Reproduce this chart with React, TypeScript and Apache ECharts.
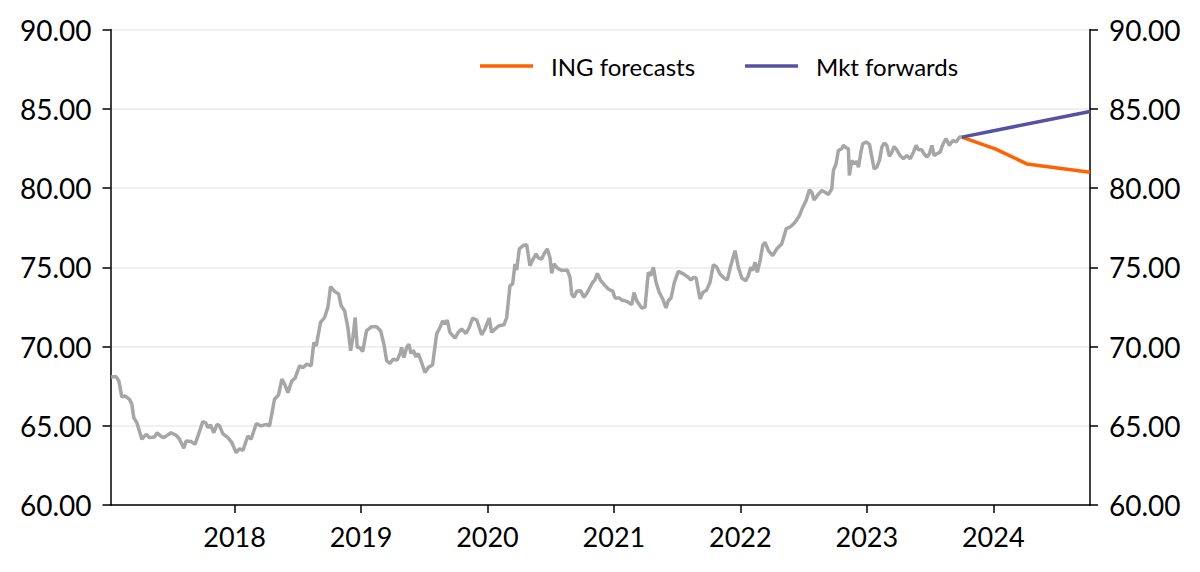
import React, { useEffect, useRef } from "react";
import * as echarts from "echarts";

// Decimal-year dates and values
const histDates = [
  2017.024, 2017.063, 2017.085, 2017.108, 2017.134, 2017.169, 2017.188, 2017.203, 2017.227, 2017.267,
  2017.301, 2017.328, 2017.367, 2017.388, 2017.415, 2017.441, 2017.498, 2017.538, 2017.565, 2017.599,
  2017.617, 2017.657, 2017.688, 2017.715, 2017.749, 2017.771, 2017.789, 2017.81, 2017.836, 2017.862,
  2017.881, 2017.907, 2017.947, 2017.979, 2018.013, 2018.04, 2018.066, 2018.105, 2018.131, 2018.171,
  2018.21, 2018.25, 2018.277, 2018.316, 2018.348, 2018.374, 2018.396, 2018.422, 2018.453, 2018.479,
  2018.514, 2018.54, 2018.572, 2018.606, 2018.627, 2018.646, 2018.68, 2018.712, 2018.738, 2018.759,
  2018.791, 2018.823, 2018.843, 2018.87, 2018.896, 2018.918, 2018.936, 2018.954, 2018.97, 2018.991,
  2019.013, 2019.044, 2019.084, 2019.123, 2019.155, 2019.181, 2019.203, 2019.229, 2019.255, 2019.286,
  2019.308, 2019.321, 2019.339, 2019.361, 2019.379, 2019.395, 2019.413, 2019.434, 2019.453, 2019.479,
  2019.506, 2019.532, 2019.566, 2019.598, 2019.624, 2019.646, 2019.664, 2019.682, 2019.703, 2019.743,
  2019.769, 2019.796, 2019.83, 2019.856, 2019.883, 2019.915, 2019.954, 2019.98, 2020.014, 2020.033,
  2020.059, 2020.093, 2020.131, 2020.152, 2020.178, 2020.199, 2020.218, 2020.231, 2020.252, 2020.283,
  2020.31, 2020.336, 2020.358, 2020.384, 2020.402, 2020.429, 2020.447, 2020.473, 2020.494, 2020.508,
  2020.526, 2020.552, 2020.587, 2020.631, 2020.653, 2020.666, 2020.684, 2020.706, 2020.737, 2020.763,
  2020.79, 2020.832, 2020.85, 2020.869, 2020.896, 2020.93, 2020.956, 2020.991, 2021.009, 2021.043,
  2021.062, 2021.101, 2021.141, 2021.159, 2021.18, 2021.22, 2021.246, 2021.272, 2021.291, 2021.312,
  2021.333, 2021.359, 2021.386, 2021.412, 2021.43, 2021.452, 2021.478, 2021.509, 2021.549, 2021.581,
  2021.608, 2021.628, 2021.65, 2021.681, 2021.703, 2021.734, 2021.76, 2021.786, 2021.813, 2021.839,
  2021.871, 2021.897, 2021.924, 2021.958, 2021.984, 2022.011, 2022.043, 2022.063, 2022.082, 2022.098,
  2022.116, 2022.134, 2022.156, 2022.177, 2022.195, 2022.222, 2022.256, 2022.288, 2022.327, 2022.362,
  2022.399, 2022.433, 2022.467, 2022.494, 2022.52, 2022.546, 2022.565, 2022.583, 2022.609, 2022.644,
  2022.67, 2022.696, 2022.723, 2022.736, 2022.757, 2022.775, 2022.802, 2022.815, 2022.836, 2022.854,
  2022.862, 2022.881, 2022.9, 2022.921, 2022.934, 2022.953, 2022.968, 2022.994, 2023.021, 2023.04,
  2023.058, 2023.079, 2023.1, 2023.119, 2023.137, 2023.158, 2023.179, 2023.198, 2023.216, 2023.237,
  2023.263, 2023.29, 2023.316, 2023.343, 2023.369, 2023.39, 2023.408, 2023.435, 2023.453, 2023.475,
  2023.495, 2023.514, 2023.532, 2023.554, 2023.58, 2023.601, 2023.627, 2023.653, 2023.68, 2023.707,
  2023.733, 2023.752,
];

const histValues = [
  68.08, 68.1, 67.83, 66.82, 66.88, 66.67, 66.36, 65.51, 65.2, 64.15,
  64.46, 64.25, 64.29, 64.56, 64.35, 64.25, 64.56, 64.4, 64.15, 63.58,
  64.04, 64.0, 63.83, 64.46, 65.26, 65.2, 64.88, 65.05, 64.56, 65.09,
  64.99, 64.5, 64.25, 63.93, 63.3, 63.55, 63.44, 64.35, 64.15, 65.13,
  64.99, 65.09, 64.99, 66.67, 66.95, 67.94, 67.62, 67.09, 67.83, 68.0,
  68.78, 68.67, 68.89, 68.78, 70.25, 70.04, 71.52, 71.83, 72.47, 73.77,
  73.48, 73.31, 72.57, 72.26, 71.2, 69.73, 70.57, 71.83, 69.94, 69.94,
  69.68, 71.0, 71.25, 71.25, 71.0, 70.15, 69.1, 68.93, 69.2, 69.14,
  69.52, 69.94, 69.3, 69.94, 70.15, 69.56, 69.77, 69.35, 69.56, 68.99,
  68.36, 68.67, 68.84, 70.78, 71.2, 71.62, 71.42, 71.67, 70.89, 70.53,
  70.89, 71.1, 70.82, 71.2, 71.79, 71.67, 70.74, 71.1, 71.79, 70.89,
  71.1, 71.31, 71.37, 71.83, 73.84, 73.94, 75.21, 74.83, 76.16, 76.37,
  76.43, 75.1, 75.46, 75.84, 75.59, 75.52, 75.84, 76.16, 75.62, 74.61,
  75.21, 74.96, 74.79, 74.83, 74.36, 73.31, 73.1, 73.48, 73.52, 73.1,
  73.41, 74.05, 74.2, 74.61, 74.15, 73.84, 73.63, 73.48, 73.06, 73.06,
  72.93, 72.85, 72.64, 73.41, 72.89, 72.43, 72.47, 74.68, 74.47, 75.0,
  74.05, 73.41, 73.0, 72.43, 72.89, 73.06, 74.05, 74.74, 74.58, 74.41,
  74.2, 74.36, 74.32, 73.0, 73.41, 73.57, 74.05, 75.16, 75.0, 74.58,
  74.32, 74.2, 75.1, 76.05, 75.0, 74.32, 74.15, 74.47, 75.0, 74.79,
  75.31, 74.68, 75.42, 76.37, 76.57, 76.05, 75.73, 76.16, 76.47, 77.42,
  77.57, 77.84, 78.26, 78.79, 79.21, 79.89, 79.73, 79.25, 79.53, 79.84,
  79.73, 79.59, 79.95, 81.11, 81.53, 82.37, 82.48, 82.69, 82.54, 82.48,
  80.79, 81.74, 81.53, 81.69, 81.31, 82.26, 82.79, 82.9, 82.75, 81.95,
  81.21, 81.31, 81.74, 82.58, 82.83, 82.69, 81.99, 82.26, 82.62, 82.41,
  82.05, 81.85, 82.05, 81.85, 82.26, 82.69, 82.41, 82.41, 82.16, 81.95,
  82.16, 82.69, 82.05, 82.16, 82.26, 82.75, 83.11, 82.69, 83.0, 82.9,
  83.21, 83.21,
];

const ingDates = [2023.752, 2024.015, 2024.266, 2024.765];
const ingValues = [83.21, 82.47, 81.52, 81.0];

const fwdDates = [2023.752, 2024.765];
const fwdValues = [83.21, 84.83];

const yearTicks = [2018, 2019, 2020, 2021, 2022, 2023, 2024];
const seriesNames = ["ING forecasts", "Mkt forwards"];

const FONT = "Lato, 'Noto Sans', sans-serif";

export default function App() {
  const ref = useRef<HTMLDivElement>(null);

  useEffect(() => {
    if (!ref.current) return;
    const chart = echarts.init(ref.current, undefined, { renderer: "svg" });

    const pair = (xs: number[], ys: number[]) => xs.map((x, i) => [x, ys[i]]);

    const yAxisCommon = {
      type: "value",
      min: 60,
      max: 90,
      interval: 5,
      axisLine: { show: true, lineStyle: { color: "#000", width: 1.5 } },
      axisTick: { show: true, length: 8, lineStyle: { color: "#000", width: 1.5 } },
      axisLabel: {
        color: "#000",
        fontFamily: FONT,
        fontSize: 28,
        margin: 19,
        formatter: (v: number) => v.toFixed(2),
      },
    };

    chart.setOption({
      animation: false,
      backgroundColor: "#fff",
      grid: { left: 110.5, right: 110, top: 29.5, bottom: 67, containLabel: false },
      legend: {
        data: seriesNames,
        left: 480,
        top: 54,
        padding: 0,
        icon: "rect",
        itemWidth: 53,
        itemHeight: 3.5,
        itemGap: 50,
        textStyle: {
          color: "#000",
          fontFamily: FONT,
          fontSize: 24,
          padding: [0, 0, 0, 13],
        },
      },
      xAxis: {
        type: "value",
        min: 2017.019,
        max: 2024.765,
        axisLine: { show: true, lineStyle: { color: "#000", width: 1.5 } },
        axisTick: {
          show: true,
          length: 8,
          customValues: yearTicks,
          lineStyle: { color: "#000", width: 1.5 },
        },
        axisLabel: {
          customValues: yearTicks,
          color: "#000",
          fontFamily: FONT,
          fontSize: 27,
          margin: 18,
          formatter: (v: number) => String(Math.round(v)),
        },
        splitLine: { show: false },
      },
      yAxis: [
        {
          ...yAxisCommon,
          position: "left",
          splitLine: { show: true, lineStyle: { color: "#ebebeb", width: 1.5 } },
        },
        {
          ...yAxisCommon,
          position: "right",
          splitLine: { show: false },
        },
      ],
      series: [
        {
          name: "History",
          type: "line",
          data: pair(histDates, histValues),
          showSymbol: false,
          lineStyle: { color: "#a6a6a6", width: 3.5 },
          itemStyle: { color: "#a6a6a6" },
          z: 2,
        },
        {
          name: seriesNames[0],
          type: "line",
          data: pair(ingDates, ingValues),
          showSymbol: false,
          lineStyle: { color: "#ff6200", width: 3.5 },
          itemStyle: { color: "#ff6200" },
          z: 3,
        },
        {
          name: seriesNames[1],
          type: "line",
          data: pair(fwdDates, fwdValues),
          showSymbol: false,
          lineStyle: { color: "#5652a3", width: 3.5 },
          itemStyle: { color: "#5652a3" },
          z: 4,
        },
      ],
    });

    return () => chart.dispose();
  }, []);

  return (
    <div
      ref={ref}
      style={{ position: "fixed", left: 0, top: 0, width: 1200, height: 572, background: "#fff" }}
    />
  );
}
